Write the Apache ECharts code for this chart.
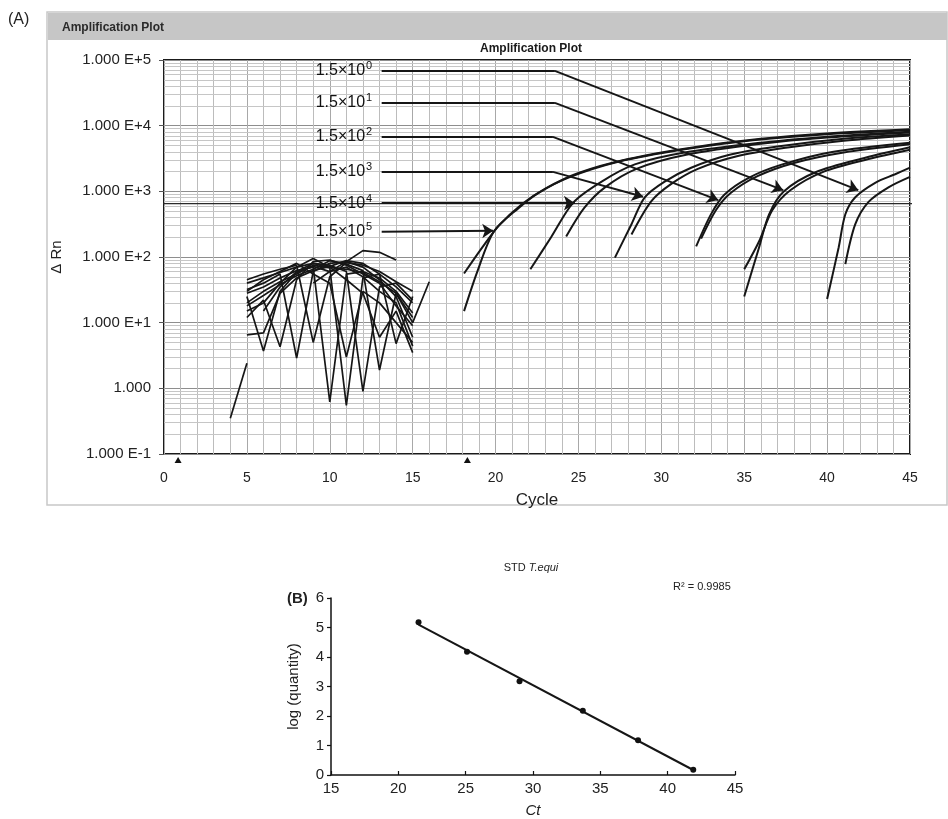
<!DOCTYPE html>
<html>
<head>
<meta charset="utf-8">
<script src="https://cdn.jsdelivr.net/npm/echarts@6/dist/echarts.min.js"></script>
<style>
  html, body { margin: 0; padding: 0; background: #fff; }
  #chart { width: 948px; height: 819px; }
</style>
</head>
<body>
<div id="chart"></div>
<script>
// ---------- (A) amplification plot ----------
const cycleRange = [0, 45];
const rnTickLabels = ['1.000 E-1', '1.000', '1.000 E+1', '1.000 E+2', '1.000 E+3', '1.000 E+4', '1.000 E+5'];
const threshold = 650;
const baselineMarks = [0.85, 18.3];

// two replicate traces per standard dilution, [cycle, delta Rn]
const ampE5 = [
  [[18.1, 15], [18.9, 60], [19.9, 245], [21.4, 560], [22.6, 950], [24.4, 1620], [27.4, 2820], [31.4, 4370], [35.5, 6000], [40, 7400], [45, 8500]],
  [[18.1, 56], [19.2, 140], [20.2, 300], [21.6, 640], [23, 1100], [25, 1900], [28, 3100], [32, 4700], [36, 6300], [40, 7600], [45, 8800]]
];
const ampE4 = [
  [[22.1, 65], [23.35, 200], [24.7, 680], [26.4, 1410], [28.4, 2570], [31.4, 3890], [36, 5500], [40, 6800], [45, 8100]],
  [[24.26, 205], [25.35, 560], [26.6, 1150], [28.5, 2200], [31.5, 3600], [36, 5300], [40, 6600], [45, 7900]]
];
const ampE3 = [
  [[27.2, 98], [28.2, 316], [29, 810], [30.2, 1410], [31.8, 2290], [34, 3550], [37, 4800], [41, 6300], [45, 7400]],
  [[28.2, 220], [29.4, 710], [30.6, 1300], [32.2, 2200], [34.5, 3400], [37.5, 4600], [41, 5900], [45, 7100]]
];
const ampE2 = [
  [[32.1, 145], [33, 450], [33.8, 890], [35.3, 1620], [37.3, 2570], [40.3, 3980], [45, 5500]],
  [[32.4, 190], [33.3, 520], [34.2, 950], [35.8, 1700], [38, 2700], [41, 3900], [45, 5200]]
];
const ampE1 = [
  [[35, 25], [35.9, 141], [36.5, 447], [37.4, 1000], [39.3, 1950], [42.3, 3240], [45, 4680]],
  [[35, 65], [35.9, 174], [36.7, 520], [37.8, 1050], [39.8, 2000], [42.5, 3100], [45, 4300]]
];
const ampE0 = [
  [[40, 23], [40.7, 141], [41.1, 447], [41.7, 813], [42.9, 1350], [44.1, 1820], [45, 2290]],
  [[41.1, 78], [41.7, 316], [42.5, 690], [43.7, 1150], [45, 1660]]
];

// background-level traces of the early cycles
const noiseTraces = [
  [[5, 28], [6, 35], [7, 48], [8, 62], [9, 70], [10, 0.62], [11, 55], [12, 60], [13, 48], [14, 30], [15, 14]],
  [[5, 20], [6, 30], [7, 42], [8, 55], [9, 75], [10, 68], [11, 0.55], [12, 48], [13, 55], [14, 35], [15, 20]],
  [[5, 32], [6, 40], [7, 55], [8, 2.9], [9, 60], [10, 80], [11, 85], [12, 70], [13, 45], [14, 25], [15, 6]],
  [[5, 12], [6, 22], [7, 4.3], [8, 45], [9, 85], [10, 90], [11, 75], [12, 55], [13, 40], [14, 18], [15, 9]],
  [[5, 40], [6, 48], [7, 58], [8, 70], [9, 80], [10, 75], [11, 60], [12, 0.9], [13, 35], [14, 40], [15, 22]],
  [[5, 18], [6, 26], [7, 38], [8, 52], [9, 65], [10, 88], [11, 78], [12, 62], [13, 1.9], [14, 28], [15, 12]],
  [[5, 25], [6, 3.7], [7, 30], [8, 58], [9, 72], [10, 60], [11, 70], [12, 50], [13, 30], [14, 20], [15, 4.4]],
  [[5, 6.5], [6, 7], [7, 28], [8, 48], [9, 62], [10, 72], [11, 88], [12, 80], [13, 55], [14, 4.8], [15, 25]],
  [[5, 45], [6, 55], [7, 65], [8, 75], [9, 5], [10, 50], [11, 82], [12, 75], [13, 60], [14, 42], [15, 30]],
  [[9, 40], [10, 60], [11, 85], [12, 125], [13, 118], [14, 90]],
  [[6, 15], [7, 35], [8, 60], [9, 80], [10, 70], [11, 65], [12, 58], [13, 42], [14, 28], [15, 10], [16, 42]],
  [[4, 0.35], [5, 2.4]],
  [[5, 30], [6, 45], [7, 60], [8, 80], [9, 55], [10, 40], [11, 3], [12, 30], [13, 20], [14, 10], [15, 5]],
  [[5, 15], [6, 20], [7, 40], [8, 70], [9, 95], [10, 70], [11, 45], [12, 28], [13, 6], [14, 15], [15, 3.5]]
];

// dilution call-outs: exponent, label level, bend cycle, arrow tip
const dilutionExp = [0, 1, 2, 3, 4, 5];
const calloutStart = 13.13;
const calloutLevel = [68300, 22200, 6760, 1980, 660, 242];
const calloutBend = [23.58, 23.58, 23.46, 23.46, null, null];
const calloutTip = [[41.88, 1042], [37.35, 1042], [33.43, 735], [28.9, 825], [24.79, 660], [19.86, 250]];

// ---------- (B) standard curve ----------
const stdCt = [21.5, 25.1, 29.0, 33.7, 37.8, 41.9];
const stdLogQty = [5.18, 4.18, 3.18, 2.18, 1.18, 0.18];
const stdR2Text = 'R\u00b2 = 0.9985';

// least-squares fit of log(quantity) on Ct
function fitLine(xs, ys) {
  const n = xs.length;
  const mx = xs.reduce((a, b) => a + b, 0) / n;
  const my = ys.reduce((a, b) => a + b, 0) / n;
  let sxy = 0, sxx = 0;
  for (let i = 0; i < n; i++) { sxy += (xs[i] - mx) * (ys[i] - my); sxx += (xs[i] - mx) ** 2; }
  const slope = sxy / sxx;
  return { slope, intercept: my - slope * mx };
}
const fit = fitLine(stdCt, stdLogQty);
const ctMin = Math.min(...stdCt), ctMax = Math.max(...stdCt);
const fitSegment = [[ctMin, fit.intercept + fit.slope * ctMin], [ctMax, fit.intercept + fit.slope * ctMax]];

// log-decade minor grid (2..9 x 10^n)
const minorLevels = [];
for (let e = -1; e < 5; e++) for (let k = 2; k <= 9; k++) minorLevels.push(+(k * Math.pow(10, e)).toPrecision(3));

const ink = '#161616';
const font = 'Liberation Sans, Arial, sans-serif';

const series = [];

// threshold line + minor log grid
series.push({
  type: 'line', xAxisIndex: 0, yAxisIndex: 0, z: 2, clip: false, silent: true,
  symbol: 'none',
  data: [[-0.35, threshold], [45.45, threshold]],
  lineStyle: { color: '#2a2a2a', width: 1.4 },
  markLine: {
    silent: true, symbol: 'none', z: 1, animation: false,
    label: { show: false },
    lineStyle: { color: '#c6c6c6', width: 1, type: 'solid' },
    emphasis: { disabled: true },
    data: minorLevels.map(v => ({ yAxis: v }))
  }
});

noiseTraces.forEach(tr => series.push({
  type: 'line', xAxisIndex: 0, yAxisIndex: 0, z: 3, silent: true,
  symbol: 'none', data: tr,
  lineStyle: { color: ink, width: 1.7 }
}));

[ampE5, ampE4, ampE3, ampE2, ampE1, ampE0].forEach(pair => pair.forEach(tr => series.push({
  type: 'line', xAxisIndex: 0, yAxisIndex: 0, z: 4, silent: true,
  symbol: 'none', smooth: 0.3, data: tr,
  lineStyle: { color: ink, width: 2 }
})));

// call-out labels and leader lines
const legs = [], arrows = [];
dilutionExp.forEach((e, i) => {
  const lv = calloutLevel[i];
  const from = calloutBend[i] != null ? [calloutBend[i], lv] : [calloutStart, lv];
  if (calloutBend[i] != null) legs.push([{ coord: [calloutStart, lv] }, { coord: from }]);
  arrows.push([{ coord: from }, { coord: calloutTip[i] }]);
});
series.push({
  type: 'scatter', xAxisIndex: 0, yAxisIndex: 0, z: 6, silent: true,
  symbolSize: 1, itemStyle: { color: 'rgba(0,0,0,0)', opacity: 1 },
  data: dilutionExp.map((e, i) => ({ value: [calloutStart, calloutLevel[i]], exp: e })),
  label: {
    show: true, position: 'left', distance: 9, color: '#111', opacity: 1,
    formatter: p => '{b|1.5\u00d710}{s|' + p.data.exp + '}',
    rich: {
      b: { fontSize: 16, color: '#111', fontFamily: font },
      s: { fontSize: 11, color: '#111', fontFamily: font, verticalAlign: 'top', padding: [0, 0, 9, 1] }
    }
  },
  markLine: {
    silent: true, symbol: 'none', animation: false,
    label: { show: false }, emphasis: { disabled: true },
    lineStyle: { color: ink, width: 2, type: 'solid', opacity: 1 },
    data: legs
  }
});
series.push({
  type: 'scatter', xAxisIndex: 0, yAxisIndex: 0, z: 6, silent: true,
  symbolSize: 0, data: [],
  markLine: {
    silent: true, symbol: ['none', 'arrow'], symbolSize: 11, animation: false,
    label: { show: false }, emphasis: { disabled: true },
    itemStyle: { color: ink },
    lineStyle: { color: ink, width: 2, type: 'solid', opacity: 1 },
    data: arrows
  }
});

// baseline range markers below the cycle axis
series.push({
  type: 'scatter', xAxisIndex: 0, yAxisIndex: 0, z: 6, silent: true, clip: false,
  symbol: 'triangle', symbolSize: [7, 6], symbolOffset: [0, 6],
  itemStyle: { color: '#111', opacity: 1 },
  data: baselineMarks.map(c => [c, 0.1])
});

// standard curve
series.push({
  type: 'line', xAxisIndex: 1, yAxisIndex: 1, z: 3, silent: true,
  symbol: 'none', data: fitSegment,
  lineStyle: { color: ink, width: 2 }
});
series.push({
  type: 'scatter', xAxisIndex: 1, yAxisIndex: 1, z: 4, silent: true,
  symbolSize: 6, itemStyle: { color: '#111', opacity: 1 },
  data: stdCt.map((c, i) => [c, stdLogQty[i]])
});

const option = {
  animation: false,
  backgroundColor: '#ffffff',
  textStyle: { fontFamily: font },
  grid: [
    { left: 164, top: 60, width: 746, height: 394, show: true, borderColor: '#1a1a1a', borderWidth: 2, backgroundColor: 'rgba(0,0,0,0)', containLabel: false },
    { left: 331, top: 598, width: 404, height: 179, containLabel: false }
  ],
  xAxis: [
    {
      gridIndex: 0, type: 'value', min: cycleRange[0], max: cycleRange[1], interval: 5,
      axisLine: { show: false }, axisTick: { show: false },
      axisLabel: { color: '#222', fontSize: 14, margin: 17, fontFamily: font },
      splitLine: { show: true, lineStyle: { color: '#a8a8a8', width: 1 } },
      minorTick: { show: false, splitNumber: 5 },
      minorSplitLine: { show: true, lineStyle: { color: '#bcbcbc', width: 1 } },
      name: 'Cycle', nameLocation: 'middle', nameGap: 38,
      nameTextStyle: { fontSize: 17, color: '#222', fontFamily: font }
    },
    {
      gridIndex: 1, type: 'value', min: 15, max: 45, interval: 5,
      axisLine: { show: true, onZero: false, lineStyle: { color: '#111', width: 1.5 } },
      axisTick: { show: true, inside: true, length: 4, lineStyle: { color: '#111', width: 1.2 } },
      axisLabel: { color: '#222', fontSize: 15, margin: 6, fontFamily: font },
      splitLine: { show: false },
      name: 'Ct', nameLocation: 'middle', nameGap: 28,
      nameTextStyle: { fontSize: 15, color: '#222', fontStyle: 'italic', fontFamily: font }
    }
  ],
  yAxis: [
    {
      gridIndex: 0, type: 'log', logBase: 10, min: 0.1, max: 100000,
      axisLine: { show: false },
      axisTick: { show: true, length: 5, lineStyle: { color: '#555' } },
      axisLabel: {
        color: '#222', fontSize: 15, margin: 13, fontFamily: font,
        formatter: v => rnTickLabels[Math.round(Math.log10(v)) + 1]
      },
      splitLine: { show: true, lineStyle: { color: '#8e8e8e', width: 1.2 } },
      name: '\u0394 Rn', nameLocation: 'middle', nameGap: 100, nameRotate: 90,
      nameTextStyle: { fontSize: 15, color: '#222', fontFamily: font }
    },
    {
      gridIndex: 1, type: 'value', min: 0, max: 6, interval: 1,
      axisLine: { show: true, onZero: false, lineStyle: { color: '#111', width: 1.5 } },
      axisTick: { show: true, length: 4, lineStyle: { color: '#111', width: 1.2 } },
      axisLabel: { color: '#222', fontSize: 15, margin: 7, fontFamily: font },
      splitLine: { show: false },
      name: 'log (quantity)', nameLocation: 'middle', nameGap: 30, nameRotate: 90,
      nameTextStyle: { fontSize: 15, color: '#222', fontFamily: font }
    }
  ],
  graphic: [
    { type: 'rect', z: -10, shape: { x: 47, y: 12, width: 900, height: 493 }, style: { fill: 'none', stroke: '#c8c8c8', lineWidth: 1.5 } },
    { type: 'rect', z: -9, shape: { x: 48, y: 13, width: 899, height: 27 }, style: { fill: '#c6c6c6' } },
    { type: 'text', x: 62, y: 28, style: { text: 'Amplification Plot', fill: '#2a2a2a', font: 'bold 12px ' + font, textVerticalAlign: 'middle' } },
    { type: 'text', x: 531, y: 49, style: { text: 'Amplification Plot', fill: '#1a1a1a', font: 'bold 12px ' + font, textAlign: 'center', textVerticalAlign: 'middle' } },
    { type: 'text', x: 8, y: 20, style: { text: '(A)', fill: '#222', font: '16px ' + font, textVerticalAlign: 'middle' } },
    { type: 'text', x: 287, y: 599, style: { text: '(B)', fill: '#222', font: 'bold 15px ' + font, textVerticalAlign: 'middle' } },
    {
      type: 'text', x: 531, y: 568,
      style: {
        text: '{n|STD }{i|T.equi}', textAlign: 'center', textVerticalAlign: 'middle',
        rich: {
          n: { fontSize: 11, fill: '#222', fontFamily: font },
          i: { fontSize: 11, fill: '#222', fontStyle: 'italic', fontFamily: font }
        }
      }
    },
    { type: 'text', x: 673, y: 587, style: { text: stdR2Text, fill: '#222', font: '11px ' + font, textVerticalAlign: 'middle' } }
  ],
  series: series
};

const chart = echarts.init(document.getElementById('chart'), null, { renderer: 'canvas' });
chart.setOption(option);
</script>
</body>
</html>
